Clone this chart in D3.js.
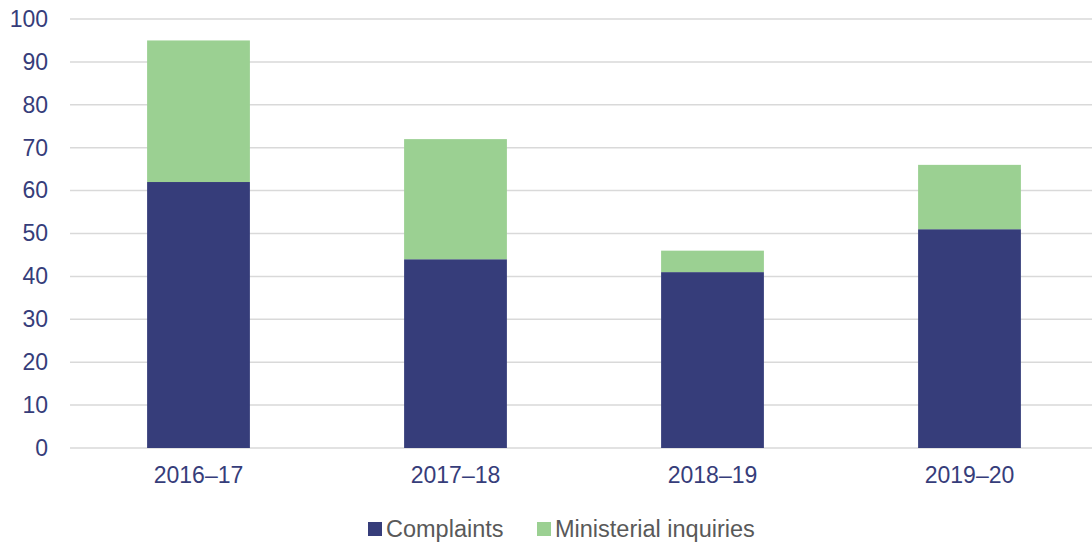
<!DOCTYPE html>
<html><head><meta charset="utf-8">
<script src="https://cdn.jsdelivr.net/npm/d3@7"></script>
<style>body{margin:0;background:#fff}svg{display:block;font-family:"Liberation Sans",Arial,sans-serif}</style>
</head><body><svg id="c" width="1092" height="543"></svg>
<script>
const categories = ["2016–17","2017–18","2018–19","2019–20"];
const complaints = [62,44,41,51];
const ministerial = [33,28,5,15];
const seriesNames = ["Complaints","Ministerial inquiries"];
const colors = ["#363d7a","#9bd092"];
const yTicks = [0,10,20,30,40,50,60,70,80,90,100];

const svg = d3.select("#c");
const x = d3.scaleBand().domain(categories).range([70,1098]).paddingInner(0.6).paddingOuter(0.3);
const y = d3.scaleLinear().domain([0,100]).range([448,19]);

svg.append("g").selectAll("line").data(yTicks).join("line")
  .attr("x1",70).attr("x2",1092).attr("y1",d=>y(d)).attr("y2",d=>y(d))
  .attr("stroke","#d9d9d9").attr("stroke-width",1.5);

const yAxis = svg.append("g").attr("transform","translate(48,0)")
  .call(d3.axisLeft(y).tickValues(yTicks).tickSize(0).tickPadding(0));
yAxis.select(".domain").remove();
yAxis.selectAll("text").attr("font-size",23).attr("fill","#363d7a").attr("font-family","Liberation Sans, Arial, sans-serif");

const data = categories.map((c,i)=>({cat:c, Complaints:complaints[i], "Ministerial inquiries":ministerial[i]}));
const stack = d3.stack().keys(seriesNames)(data);
svg.append("g").selectAll("g").data(stack).join("g").attr("fill",(d,i)=>colors[i])
  .selectAll("rect").data(d=>d).join("rect")
  .attr("x",d=>x(d.data.cat)).attr("width",x.bandwidth())
  .attr("y",d=>y(d[1])).attr("height",d=>y(d[0])-y(d[1]));

const xAxis = svg.append("g").attr("transform","translate(0,448)")
  .call(d3.axisBottom(x).tickSize(0).tickPadding(19));
xAxis.select(".domain").remove();
xAxis.selectAll("text").attr("font-size",23).attr("fill","#363d7a").attr("font-family","Liberation Sans, Arial, sans-serif");

const legX = [368,537];
const leg = svg.append("g");
seriesNames.forEach((n,i)=>{
  leg.append("rect").attr("x",legX[i]).attr("y",522).attr("width",14).attr("height",14).attr("fill",colors[i]);
  leg.append("text").attr("x",legX[i]+18).attr("y",537).attr("font-size",23.5).attr("fill","#595959").text(n);
});
</script></body></html>
